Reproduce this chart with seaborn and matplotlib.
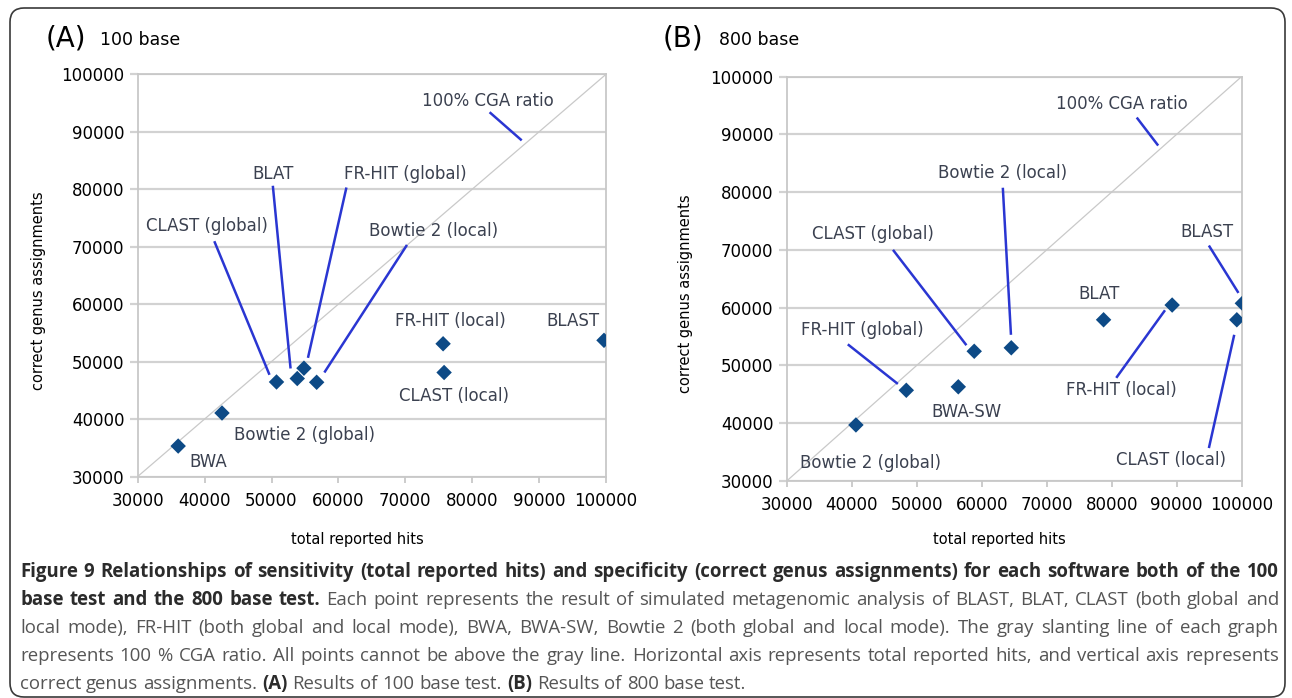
import matplotlib
matplotlib.use("Agg")
import matplotlib.pyplot as plt
import matplotlib.transforms as mtransforms
from matplotlib.patches import FancyBboxPatch
import seaborn as sns
import pandas as pd

# ---------------- data ----------------
A_tools = ["BLAST", "BLAT", "CLAST (global)", "CLAST (local)", "FR-HIT (global)",
           "FR-HIT (local)", "BWA", "Bowtie 2 (global)", "Bowtie 2 (local)"]
A_hits = [99700, 53850, 50750, 75800, 54850, 75650, 36050, 42600, 56750]
A_correct = [53700, 47050, 46450, 48100, 48850, 53100, 35300, 41050, 46400]

B_tools = ["BLAST", "BLAT", "CLAST (global)", "CLAST (local)", "FR-HIT (global)",
           "FR-HIT (local)", "BWA-SW", "Bowtie 2 (global)", "Bowtie 2 (local)"]
B_hits = [100100, 78750, 58850, 99250, 48400, 89300, 56400, 40650, 64550]
B_correct = [60750, 57900, 52450, 57900, 45700, 60450, 46300, 39700, 53050]

ticks = [30000, 40000, 50000, 60000, 70000, 80000, 90000, 100000]
ratio_line = [30000, 100000]

panel_letters = ["(A)", "(B)"]
panel_titles = ["100 base", "800 base"]
xlabel = "total reported hits"
ylabel = "correct genus assignments"
ratio_label = "100% CGA ratio"

# ---------------- layout (label centres and leader lines, data coords) ----------------
A_labels = {
    "BLAST": (95000, 57100), "BLAT": (50300, 82700), "CLAST (global)": (40300, 73550),
    "CLAST (local)": (77250, 43950), "FR-HIT (global)": (69950, 82700),
    "FR-HIT (local)": (76750, 57100), "BWA": (40600, 32450),
    "Bowtie 2 (global)": (55000, 37200), "Bowtie 2 (local)": (74150, 72650),
    ratio_label: (82300, 95400),
}
A_leaders = [
    ((82600, 93400), (87400, 88500)),
    ((50200, 80600), (52850, 48800)),
    ((61200, 80300), (55450, 50650)),
    ((41450, 70950), (49700, 47700)),
    ((70250, 70300), (57900, 48100)),
]
B_labels = {
    "BLAST": (94600, 73050), "BLAT": (78000, 62400), "CLAST (global)": (43250, 72700),
    "CLAST (local)": (89150, 33600), "FR-HIT (global)": (41600, 56200),
    "FR-HIT (local)": (81450, 45700), "BWA-SW": (57650, 41950),
    "Bowtie 2 (global)": (42850, 33150), "Bowtie 2 (local)": (63250, 83350),
    ratio_label: (81600, 95200),
}
B_leaders = [
    ((83850, 92900), (87150, 88050)),
    ((63250, 80750), (64500, 55300)),
    ((46350, 70000), (57650, 53500)),
    ((94950, 70750), (99500, 62550)),
    ((39400, 53650), (47100, 46800)),
    ((80700, 47850), (88200, 59550)),
    ((94950, 35700), (98850, 55300)),
]

W, H, DPI = 1292, 698, 100
sns.set_theme(style="white")
plt.rcParams["font.family"] = ["DejaVu Sans"]
plt.rcParams["text.color"] = "black"

fig = plt.figure(figsize=(W / DPI, H / DPI), dpi=DPI)
fig.patch.set_facecolor("white")

def px_rect(l, r, t, b):
    return [l / W, 1 - b / H, (r - l) / W, (b - t) / H]

axA = fig.add_axes(px_rect(137.7, 606.0, 74.3, 476.5))
axB = fig.add_axes(px_rect(786.7, 1241.7, 76.5, 481.0))

marker_color = "#0d4a86"
leader_color = "#2a36d2"
label_color = "#3b4150"
grid_color = "#d2d2d2"

panels = [
    (axA, A_tools, A_hits, A_correct, A_labels, A_leaders),
    (axB, B_tools, B_hits, B_correct, B_labels, B_leaders),
]
label_coords = [((-0.2108, 0.461), (0.470, -0.157)), ((-0.2235, 0.462), (0.4666, -0.145))]

for i, (ax, tools, hits, correct, labels, leaders) in enumerate(panels):
    df = pd.DataFrame({"tool": tools, "hits": hits, "correct": correct})
    ax.plot(ratio_line, ratio_line, color="#c9c9c9", lw=0.9, zorder=1)
    sns.scatterplot(data=df, x="hits", y="correct", ax=ax, marker="D", s=62,
                    color=marker_color, edgecolor="none", zorder=5, legend=False)
    ax.set_xlim(30000, 100000)
    ax.set_ylim(30000, 100000)
    ax.set_xticks(ticks)
    ax.set_yticks(ticks)
    ax.set_xticklabels([str(t) for t in ticks])
    ax.set_yticklabels([str(t) for t in ticks])
    ax.yaxis.grid(True, color=grid_color, lw=1.6, zorder=0)
    ax.xaxis.grid(False)
    ax.set_axisbelow(True)
    for sp in ax.spines.values():
        sp.set_color("#c8c8c8")
        sp.set_linewidth(1.3)
        sp.set_visible(True)
    ax.tick_params(axis="x", direction="out", length=4, width=1.3, color="#c8c8c8",
                   pad=7, labelsize=12, labelcolor="black", bottom=True)
    ax.tick_params(axis="y", direction="out", length=6, width=1.6, color=grid_color,
                   pad=3.5, labelsize=12, labelcolor="black", left=True)
    ax.set_xlabel(xlabel, fontsize=10.5, color="black", va="center")
    ax.set_ylabel(ylabel, fontsize=10.5, color="black", va="center")
    (ylx, yly), (xlx, xly) = label_coords[i]
    ax.yaxis.set_label_coords(ylx, yly)
    ax.xaxis.set_label_coords(xlx, xly)
    for name, (tx, ty) in labels.items():
        ax.text(tx, ty, name, ha="center", va="center", fontsize=12,
                color=label_color, zorder=6)
    for (x1, y1), (x2, y2) in leaders:
        ax.plot([x1, x2], [y1, y2], color=leader_color, lw=1.8, zorder=4,
                solid_capstyle="butt")

# panel titles
fig.text(46 / W, 1 - 38 / H, panel_letters[0], fontsize=20, ha="left", va="center", color="black")
fig.text(100 / W, 1 - 40 / H, panel_titles[0], fontsize=12.5, ha="left", va="center", color="black")
fig.text(663 / W, 1 - 38 / H, panel_letters[1], fontsize=20, ha="left", va="center", color="black")
fig.text(719 / W, 1 - 40 / H, panel_titles[1], fontsize=12.5, ha="left", va="center", color="black")

# rounded frame
frame = FancyBboxPatch((10, 1), 1275, 689, boxstyle="round,pad=0,rounding_size=14",
                       transform=mtransforms.IdentityTransform(), fill=False,
                       edgecolor="#3a3a3a", lw=1.2, zorder=0)
fig.patches.append(frame)

# ---------------- caption ----------------
cap_lines = [
    [("Figure 9 Relationships of sensitivity (total reported hits) and specificity (correct genus assignments) for each software both of the 100", "bold")],
    [("base test and the 800 base test.", "bold"),
     ("Each point represents the result of simulated metagenomic analysis of BLAST, BLAT, CLAST (both global and", "normal")],
    [("local mode), FR-HIT (both global and local mode), BWA, BWA-SW, Bowtie 2 (both global and local mode). The gray slanting line of each graph", "normal")],
    [("represents 100 % CGA ratio. All points cannot be above the gray line. Horizontal axis represents total reported hits, and vertical axis represents", "normal")],
    [("correct genus assignments.", "normal"), ("(A)", "bold"), ("Results of 100 base test.", "normal"),
     ("(B)", "bold"), ("Results of 800 base test.", "normal")],
]
cap_font = ["Open Sans", "DejaVu Sans"]
renderer = fig.canvas.get_renderer()

def text_w(s, weight, size):
    t = fig.text(0, 0, s, fontsize=size, fontweight=weight, family=cap_font)
    w = t.get_window_extent(renderer).width
    t.remove()
    return w

# calibrate size on last line (natural spacing) to end near x=741
last_plain = "correct genus assignments. (A) Results of 100 base test. (B) Results of 800 base test."
cap_size = 10 * (741 - 20) / text_w(last_plain, "normal", 10)
space_w = text_w("a a", "normal", cap_size) - text_w("aa", "normal", cap_size)

x0, x1 = 20, 1279
for li, segs in enumerate(cap_lines):
    words = []
    for s, wgt in segs:
        for wd in s.split():
            words.append((wd, wgt))
    widths = [text_w(wd, wgt, cap_size) for wd, wgt in words]
    if li < len(cap_lines) - 1:
        gap = (x1 - x0 - sum(widths)) / (len(words) - 1)
    else:
        gap = space_w
    x = x0
    yb = 577 + 28 * li
    for (wd, wgt), w in zip(words, widths):
        fig.text(x / W, 1 - yb / H, wd, fontsize=cap_size, fontweight=wgt,
                 family=cap_font, ha="left", va="baseline",
                 color="#2b2b2b" if wgt == "bold" else "#555555")
        x += w + gap

fig.savefig("out.png", dpi=DPI, facecolor="white")
